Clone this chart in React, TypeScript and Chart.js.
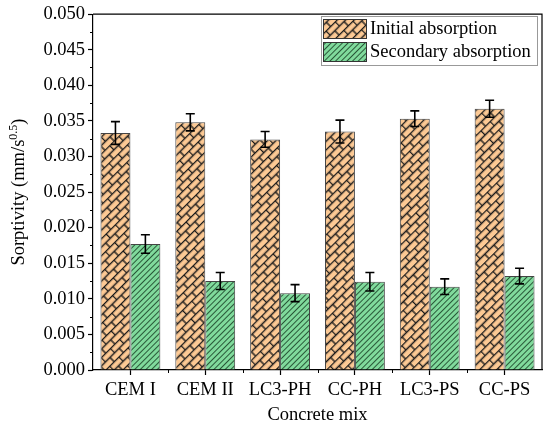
import { useEffect, useRef } from "react";
import { Chart, registerables } from "chart.js";

Chart.register(...registerables);

const categories = ["CEM I", "CEM II", "LC3-PH", "CC-PH", "LC3-PS", "CC-PS"];
const initialAbs = [0.0333, 0.0348, 0.0324, 0.0335, 0.0353, 0.0367];
const initialErr = [0.0016, 0.0012, 0.0011, 0.0016, 0.0011, 0.0012];
const secondaryAbs = [0.0177, 0.0125, 0.0108, 0.0124, 0.0117, 0.0132];
const secondaryErr = [0.0013, 0.0012, 0.0012, 0.0013, 0.0011, 0.0011];
const seriesLabels = ["Initial absorption", "Secondary absorption"];
const errors = [initialErr, secondaryErr];

const FONT = "'Times New Roman', 'Liberation Serif', serif";
const ORANGE = "#FCC994";
const GREEN = "#80DA9C";

function brickPattern(ctx: CanvasRenderingContext2D) {
    const c = document.createElement("canvas");
    c.width = 13;
    c.height = 12;
    const g = c.getContext("2d")!;
    g.fillStyle = ORANGE;
    g.fillRect(0, 0, 13, 12);
    g.strokeStyle = "#1a1a1a";
    g.lineWidth = 1.4;
    g.beginPath();
    g.moveTo(0, 0.5); g.lineTo(13, 0.5);
    g.moveTo(0, 6.5); g.lineTo(13, 6.5);
    g.moveTo(0.5, 0); g.lineTo(0.5, 6.5);
    g.moveTo(7, 6.5); g.lineTo(7, 12);
    g.stroke();
    const p = ctx.createPattern(c, "repeat")!;
    p.setTransform(new DOMMatrix().rotate(-45));
    return p;
}

function hatchPattern(ctx: CanvasRenderingContext2D) {
    const c = document.createElement("canvas");
    c.width = 4;
    c.height = 4;
    const g = c.getContext("2d")!;
    g.fillStyle = GREEN;
    g.fillRect(0, 0, 4, 4);
    g.strokeStyle = "#1f4a2c";
    g.lineWidth = 0.9;
    g.beginPath();
    g.moveTo(0, 0.5); g.lineTo(4, 0.5);
    g.stroke();
    const p = ctx.createPattern(c, "repeat")!;
    p.setTransform(new DOMMatrix().rotate(-45));
    return p;
}

export default function App() {
    const chartRef = useRef<HTMLCanvasElement>(null);

    useEffect(() => {
        document.body.style.margin = "0";
        const ctx = chartRef.current?.getContext("2d");
        if (!ctx) return;
        const fills = [brickPattern(ctx), hatchPattern(ctx)];

        const extras = {
            id: "extras",
            afterDatasetsDraw(chart: any) {
                const c = chart.ctx;
                const y = chart.scales.y;
                c.save();
                c.strokeStyle = "#000";
                c.lineWidth = 1.6;
                chart.data.datasets.forEach((ds: any, i: number) => {
                    const meta = chart.getDatasetMeta(i);
                    meta.data.forEach((el: any, j: number) => {
                        const v = ds.data[j];
                        const e = errors[i][j];
                        const yt = y.getPixelForValue(v + e);
                        const yb = y.getPixelForValue(v - e);
                        c.beginPath();
                        c.moveTo(el.x, yt); c.lineTo(el.x, yb);
                        c.moveTo(el.x - 4.5, yt); c.lineTo(el.x + 4.5, yt);
                        c.moveTo(el.x - 4.5, yb); c.lineTo(el.x + 4.5, yb);
                        c.stroke();
                    });
                });
                c.restore();
            },
            afterDraw(chart: any) {
                const c = chart.ctx;
                const a = chart.chartArea;
                const x = chart.scales.x;
                const y = chart.scales.y;
                c.save();
                // frame top/right
                c.strokeStyle = "#000";
                c.lineWidth = 1.2;
                c.beginPath();
                c.moveTo(a.left, a.top); c.lineTo(a.right, a.top); c.lineTo(a.right, a.bottom);
                c.stroke();
                // minor ticks
                c.lineWidth = 1;
                c.beginPath();
                for (let v = 0.0025; v < 0.05; v += 0.005) {
                    const py = Math.round(y.getPixelForValue(v)) + 0.5;
                    c.moveTo(a.left, py); c.lineTo(a.left - 3, py);
                }
                for (let i = 0; i < categories.length - 1; i++) {
                    const px = Math.round((x.getPixelForValue(i) + x.getPixelForValue(i + 1)) / 2) + 0.5;
                    c.moveTo(px, a.bottom); c.lineTo(px, a.bottom + 3);
                }
                c.stroke();

                // legend
                const lx = 321, ly = 16, lw = 216, lh = 49;
                c.fillStyle = "#fff";
                c.fillRect(lx, ly, lw, lh);
                c.strokeStyle = "#999";
                c.lineWidth = 1;
                c.strokeRect(lx + 0.5, ly + 0.5, lw, lh);
                c.font = `18.5px ${FONT}`;
                c.textBaseline = "middle";
                seriesLabels.forEach((lab, i) => {
                    const sy = ly + 3 + i * 23;
                    c.fillStyle = fills[i];
                    c.fillRect(lx + 2, sy, 43, 19);
                    c.strokeStyle = "#333";
                    c.strokeRect(lx + 2.5, sy + 0.5, 43, 19);
                    c.fillStyle = "#000";
                    c.fillText(lab, lx + 49, sy + 10);
                });

                // axis titles
                c.fillStyle = "#000";
                c.textAlign = "center";
                c.textBaseline = "alphabetic";
                c.font = `18.5px ${FONT}`;
                c.fillText("Concrete mix", (a.left + a.right) / 2, 420);

                c.translate(24, (a.top + a.bottom) / 2);
                c.rotate(-Math.PI / 2);
                const main = "Sorptivity (mm/s";
                const sup = "0.5";
                const end = ")";
                c.font = `18.5px ${FONT}`;
                const w1 = c.measureText(main).width;
                const w3 = c.measureText(end).width;
                c.font = `12px ${FONT}`;
                const w2 = c.measureText(sup).width;
                const start = -(w1 + w2 + w3) / 2;
                c.textAlign = "left";
                c.font = `18.5px ${FONT}`;
                c.fillText(main, start, 0);
                c.font = `12px ${FONT}`;
                c.fillText(sup, start + w1, -7);
                c.font = `18.5px ${FONT}`;
                c.fillText(end, start + w1 + w2, 0);
                c.restore();
            },
        };

        const chart = new Chart(ctx, {
            type: "bar",
            data: {
                labels: categories,
                datasets: [
                    {
                        label: seriesLabels[0],
                        data: initialAbs,
                        backgroundColor: fills[0],
                        borderColor: "#444",
                        borderWidth: 1,
                    },
                    {
                        label: seriesLabels[1],
                        data: secondaryAbs,
                        backgroundColor: fills[1],
                        borderColor: "#444",
                        borderWidth: 1,
                    },
                ],
            },
            options: {
                responsive: false,
                animation: false,
                devicePixelRatio: 1,
                layout: { padding: { top: 12, right: 8, left: 0, bottom: 0 } },
                datasets: { bar: { categoryPercentage: 0.8, barPercentage: 1 } },
                scales: {
                    x: {
                        offset: true,
                        afterFit: (s: any) => { s.height = 57; },
                        border: { color: "#000", width: 1.2 },
                        grid: { display: true, offset: false, drawOnChartArea: false, drawTicks: true, tickLength: 5, tickColor: "#000", tickWidth: 1.2 },
                        ticks: { color: "#000", padding: 4, font: { family: FONT, size: 18.5 } },
                    },
                    y: {
                        min: 0,
                        max: 0.05,
                        afterFit: (s: any) => { s.width = 93; },
                        border: { color: "#000", width: 1.2 },
                        grid: { drawOnChartArea: false, drawTicks: true, tickLength: 5, tickColor: "#000", tickWidth: 1.2 },
                        ticks: {
                            stepSize: 0.005,
                            color: "#000",
                            padding: 3,
                            font: { family: FONT, size: 18.5 },
                            callback: (v: any) => Number(v).toFixed(3),
                        },
                    },
                },
                plugins: {
                    legend: { display: false },
                    tooltip: { enabled: false },
                },
            },
            plugins: [extras],
        });

        return () => chart.destroy();
    }, []);

    return (
        <div style={{ width: 550, height: 427, background: "#fff" }}>
            <canvas ref={chartRef} width={550} height={427} />
        </div>
    );
}
